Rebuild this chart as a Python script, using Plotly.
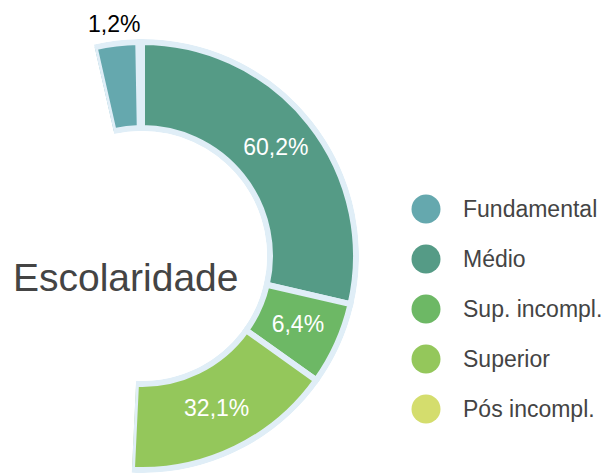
import math
import plotly.graph_objects as go

# data
labels = ['Fundamental', 'Médio', 'Sup. incompl.', 'Superior', 'Pós incompl.']
pct = [1.2, 60.2, 6.4, 32.1, 0.1]               # printed percentages
arc_deg = [12.8, 103.0, 22.5, 57.2, 0.0]        # angular size of each slice as drawn
colors = ['#65a8ae', '#559b86', '#6db865', '#94c75b', '#d4dd6d']

start_deg = -12.8          # first slice starts a little left of 12 o'clock
gap_first = 1.0            # small white gap after the first slice
border = '#e0eef7'
font_family = 'Arial, Liberation Sans, sans-serif'

PAGE = 8                    # browser body margin
W, H = 609 - PAGE, 474 - PAGE
cx, cy = 142 - PAGE, 256 - PAGE
r_in, r_out = 128, 214      # ring radii in px (slice edges)
pad = 3                     # room so the border stroke is not clipped

# polar radius / hole / radial range so that r=0..1 spans r_in..r_out
Rp = r_out + pad
hole = (r_in - pad) / Rp
span = (Rp - hole * Rp)
k = (r_out - r_in) / span                  # fraction of radial span used by 0..1
rng = [-(pad / span) / k, 1 + (pad / span) / k]

# slice centres and widths from cumulative angles
mids, widths = [], []
pos = start_deg
for i, a in enumerate(arc_deg):
    w = a - gap_first if i == 0 else a
    mids.append(pos + w / 2)
    widths.append(w)
    pos += a
end_deg = pos

def fmt(v):
    return f"{v:.1f}".replace('.', ',') + '%'

inside = [i for i in range(len(labels)) if i not in (0, len(labels) - 1)]

fig = go.Figure()

fig.add_trace(go.Barpolar(
    theta=mids,
    r=[1] * len(labels),
    width=widths,
    marker=dict(color=colors, line=dict(color=border, width=6)),
    hoverinfo='skip',
    showlegend=False,
))

fig.add_trace(go.Scatterpolar(
    theta=[mids[i] for i in inside],
    r=[0.5] * len(inside),
    mode='text',
    text=[fmt(pct[i]) for i in inside],
    textposition='middle center',
    textfont=dict(family=font_family, size=23, color='white'),
    hoverinfo='skip',
    showlegend=False,
))

# outside label for the small first slice
lab_r = r_out + 20
fig.add_annotation(
    x=(cx + lab_r * math.sin(math.radians(mids[0]))) / W,
    y=1 - (cy - lab_r * math.cos(math.radians(mids[0]))) / H,
    xref='paper', yref='paper', text=fmt(pct[0]), showarrow=False,
    font=dict(family=font_family, size=23, color='#000000'),
    xanchor='center', yanchor='middle',
)

# sector in screen angles (counter-clockwise from east)
sec_hi = 90 - start_deg
sec_lo = 90 - end_deg

bb_left = min(math.cos(math.radians(sec_hi)), math.cos(math.radians(sec_lo)))
x0 = (cx + bb_left * Rp) / W
x1 = (cx + Rp) / W
y0 = max(0, (H - (cy + Rp)) / H)
y1 = (H - (cy - Rp)) / H

fig.update_layout(
    width=W,
    height=H,
    margin=dict(l=0, r=0, t=0, b=0),
    paper_bgcolor='white',
    plot_bgcolor='white',
    showlegend=False,
    polar=dict(
        domain=dict(x=[x0, x1], y=[y0, y1]),
        sector=[sec_lo, sec_hi],
        hole=hole,
        bgcolor='rgba(0,0,0,0)',
        radialaxis=dict(range=rng, visible=False),
        angularaxis=dict(rotation=90, direction='clockwise', visible=False),
        bargap=0,
    ),
)

# centre title
fig.add_annotation(
    x=(125 - PAGE) / W, y=1 - (277.5 - PAGE) / H, xref='paper', yref='paper',
    text='Escolaridade', showarrow=False,
    font=dict(family=font_family, size=39, color='#444444'),
    xanchor='center', yanchor='middle',
)

# legend with round markers
leg_x, leg_y0, leg_step, leg_r = 426 - PAGE, 209 - PAGE, 50, 14.5
for i, (lab, col) in enumerate(zip(labels, colors)):
    y = leg_y0 + i * leg_step
    fig.add_shape(
        type='circle', xref='paper', yref='paper',
        x0=(leg_x - leg_r) / W, x1=(leg_x + leg_r) / W,
        y0=1 - (y + leg_r) / H, y1=1 - (y - leg_r) / H,
        fillcolor=col, line=dict(width=0),
    )
    fig.add_annotation(
        x=(461 - PAGE) / W, y=1 - y / H, xref='paper', yref='paper',
        text=lab, showarrow=False,
        font=dict(family=font_family, size=23, color='#444444'),
        xanchor='left', yanchor='middle',
    )

fig.write_html("out.html")
